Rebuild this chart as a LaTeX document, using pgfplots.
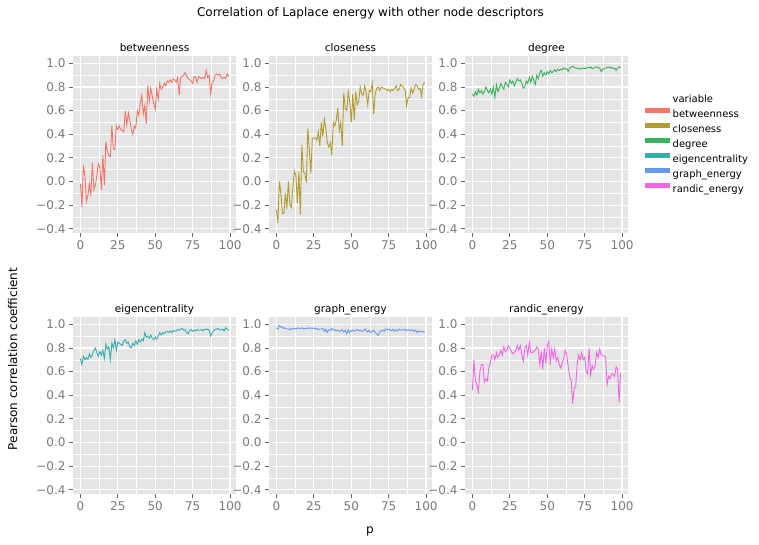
\documentclass[border=0pt]{standalone}
\usepackage{pgfplots}
\pgfplotsset{compat=1.18}
\usepackage{pgfplotstable}
\usepackage{fontspec}
\setmainfont{DejaVu Sans}

\definecolor{bg}{HTML}{E5E5E5}
\definecolor{tickc}{HTML}{666666}
\definecolor{tlc}{HTML}{7A7A7A}
\definecolor{cbet}{HTML}{F2756A}
\definecolor{cclo}{HTML}{B09C30}
\definecolor{cdeg}{HTML}{38B35C}
\definecolor{ceig}{HTML}{35AFAA}
\definecolor{cgra}{HTML}{6699F0}
\definecolor{cran}{HTML}{F463E8}

\pgfplotstableread{
p bet clo deg eig gra ran
0 -0.02 -0.24 0.74 0.71 0.97 0.44
1 -0.22 -0.35 0.72 0.66 0.96 0.70
2 0.14 0.00 0.76 0.73 0.99 0.52
3 0.05 -0.10 0.73 0.70 0.975 0.49
4 -0.17 -0.27 0.78 0.72 0.98 0.43
5 -0.12 -0.27 0.75 0.70 0.965 0.60
6 -0.02 -0.10 0.77 0.75 0.97 0.66
7 -0.12 -0.23 0.74 0.72 0.96 0.66
8 0.16 0.00 0.76 0.74 0.96 0.51
9 -0.07 -0.20 0.80 0.78 0.955 0.54
10 -0.03 -0.22 0.77 0.80 0.965 0.52
11 0.05 -0.05 0.75 0.76 0.96 0.64
12 0.15 0.09 0.78 0.73 0.965 0.67
13 0.12 0.05 0.74 0.77 0.96 0.74
14 -0.07 -0.18 0.80 0.74 0.97 0.74
15 0.22 0.08 0.71 0.78 0.965 0.70
16 -0.03 -0.28 0.82 0.71 0.965 0.76
17 0.34 0.31 0.76 0.83 0.97 0.72
18 0.25 0.08 0.79 0.79 0.96 0.74
19 0.22 0.07 0.83 0.81 0.965 0.78
20 0.21 -0.01 0.80 0.70 0.965 0.74
21 0.47 0.45 0.78 0.84 0.97 0.81
22 0.28 0.27 0.84 0.80 0.965 0.77
23 0.27 0.07 0.82 0.87 0.97 0.78
24 0.47 0.36 0.80 0.78 0.965 0.82
25 0.44 0.37 0.86 0.85 0.97 0.80
26 0.47 0.37 0.83 0.84 0.96 0.77
27 0.44 0.35 0.85 0.83 0.965 0.75
28 0.43 0.42 0.81 0.82 0.955 0.76
29 0.42 0.30 0.84 0.86 0.96 0.78
30 0.60 0.50 0.87 0.87 0.96 0.82
31 0.48 0.38 0.85 0.84 0.965 0.78
32 0.58 0.53 0.86 0.85 0.94 0.82
33 0.52 0.45 0.83 0.81 0.96 0.74
34 0.44 0.33 0.79 0.80 0.93 0.69
35 0.40 0.29 0.80 0.84 0.955 0.80
36 0.47 0.33 0.85 0.82 0.95 0.82
37 0.45 0.22 0.83 0.86 0.965 0.74
38 0.60 0.50 0.88 0.83 0.95 0.85
39 0.56 0.47 0.84 0.87 0.955 0.76
40 0.66 0.52 0.89 0.85 0.945 0.76
41 0.73 0.62 0.86 0.875 0.95 0.77
42 0.57 0.43 0.82 0.86 0.94 0.78
43 0.64 0.50 0.90 0.93 0.945 0.81
44 0.49 0.30 0.87 0.89 0.955 0.79
45 0.81 0.75 0.92 0.90 0.935 0.66
46 0.68 0.62 0.94 0.88 0.95 0.77
47 0.79 0.60 0.89 0.91 0.92 0.62
48 0.72 0.76 0.92 0.88 0.955 0.80
49 0.66 0.67 0.90 0.87 0.93 0.67
50 0.61 0.50 0.93 0.89 0.945 0.82
51 0.78 0.74 0.91 0.875 0.95 0.86
52 0.70 0.52 0.94 0.90 0.94 0.66
53 0.83 0.76 0.92 0.93 0.95 0.79
54 0.78 0.65 0.93 0.91 0.955 0.72
55 0.80 0.68 0.945 0.93 0.945 0.79
56 0.83 0.80 0.93 0.92 0.95 0.69
57 0.81 0.74 0.95 0.935 0.94 0.72
58 0.85 0.73 0.94 0.94 0.945 0.66
59 0.84 0.81 0.95 0.93 0.96 0.63
60 0.86 0.75 0.945 0.945 0.945 0.68
61 0.84 0.65 0.96 0.93 0.935 0.71
62 0.87 0.77 0.95 0.95 0.95 0.78
63 0.86 0.76 0.955 0.94 0.93 0.75
64 0.84 0.83 0.93 0.945 0.94 0.64
65 0.88 0.57 0.96 0.955 0.95 0.56
66 0.73 0.74 0.97 0.95 0.93 0.52
67 0.88 0.79 0.975 0.96 0.92 0.33
68 0.89 0.80 0.965 0.965 0.905 0.46
69 0.90 0.77 0.96 0.95 0.935 0.47
70 0.92 0.80 0.955 0.955 0.945 0.67
71 0.89 0.79 0.96 0.93 0.95 0.74
72 0.87 0.79 0.95 0.92 0.94 0.70
73 0.86 0.78 0.955 0.95 0.96 0.76
74 0.85 0.77 0.96 0.955 0.955 0.70
75 0.83 0.78 0.955 0.94 0.96 0.72
76 0.89 0.76 0.96 0.95 0.95 0.60
77 0.88 0.78 0.965 0.945 0.945 0.58
78 0.84 0.77 0.96 0.955 0.96 0.80
79 0.89 0.79 0.97 0.95 0.94 0.57
80 0.88 0.81 0.955 0.95 0.955 0.65
81 0.87 0.77 0.96 0.955 0.945 0.62
82 0.88 0.78 0.965 0.945 0.96 0.65
83 0.87 0.82 0.97 0.96 0.95 0.76
84 0.94 0.81 0.965 0.955 0.955 0.72
85 0.88 0.79 0.96 0.96 0.95 0.79
86 0.90 0.77 0.93 0.95 0.96 0.74
87 0.74 0.64 0.95 0.90 0.945 0.74
88 0.84 0.71 0.955 0.93 0.955 0.73
89 0.85 0.71 0.96 0.945 0.95 0.72
90 0.90 0.79 0.965 0.955 0.945 0.49
91 0.91 0.75 0.97 0.96 0.955 0.56
92 0.90 0.78 0.96 0.965 0.94 0.54
93 0.91 0.82 0.965 0.955 0.95 0.58
94 0.88 0.81 0.955 0.95 0.93 0.58
95 0.87 0.78 0.96 0.96 0.945 0.56
96 0.88 0.79 0.94 0.945 0.94 0.64
97 0.87 0.72 0.96 0.97 0.935 0.62
98 0.91 0.82 0.97 0.96 0.94 0.34
99 0.89 0.84 0.96 0.95 0.93 0.59
}\corr

\pgfplotsset{
  every axis title shift=0pt,
  panel/.style={
    scale only axis, width=163pt, height=177pt,
    xmin=-4.95, xmax=103.95, ymin=-0.436, ymax=1.062,
    axis background/.style={fill=bg},
    axis line style={draw=none},
    xtick={0,25,50,75,100},
    ytick={-0.4,-0.2,0,0.2,0.4,0.6,0.8,1.0},
    yticklabels={−0.4,−0.2,0.0,0.2,0.4,0.6,0.8,1.0},
    minor xtick={12.5,37.5,62.5,87.5},
    minor ytick={-0.3,-0.1,0.1,0.3,0.5,0.7,0.9},
    grid=both,
    major grid style={white, line width=1.2pt},
    minor grid style={white, line width=0.5pt},
    tick align=outside, xtick pos=bottom, ytick pos=left,
    major tick length=4pt, minor tick length=0pt,
    major tick style={draw=tickc, line width=0.8pt},
    tick label style={font=\fontsize{12}{12}\selectfont, text=tlc},
    /pgf/number format/assume math mode=true,
    title style={font=\fontsize{10.5}{12}\selectfont, at={(0.5,1)}, anchor=base, yshift=4pt, inner sep=0pt},
  },
  series/.style={line width=0.9pt, mark=none, #1},
}

\begin{document}
\begin{tikzpicture}[x=1pt,y=1pt]
\useasboundingbox (0,0) rectangle (759,545);

\begin{axis}[panel, at={(73pt,312pt)}, anchor=south west, title={betweenness}]
\addplot[series=cbet] table[x=p, y=bet] {\corr};
\end{axis}

\begin{axis}[panel, at={(269pt,312pt)}, anchor=south west, title={closeness}]
\addplot[series=cclo] table[x=p, y=clo] {\corr};
\end{axis}

\begin{axis}[panel, at={(465pt,312pt)}, anchor=south west, title={degree},
  legend style={at={(1.09,0.795)}, anchor=north west, draw=none, fill=none,
    font=\fontsize{10}{12}\selectfont, inner sep=0pt, outer sep=0pt, row sep=0pt,
    nodes={inner sep=0pt, text height=10pt, text depth=5pt},
    /tikz/every even column/.append style={column sep=6pt}},
  legend cell align=left,
  legend image code/.code={\draw[#1, line width=5pt] (0pt,4.5pt) -- (25pt,4.5pt);}]
\addplot[series=cdeg, forget plot] table[x=p, y=deg] {\corr};
\addlegendimage{empty legend}
\addlegendentry{variable}
\addlegendimage{cbet}
\addlegendentry{betweenness}
\addlegendimage{cclo}
\addlegendentry{closeness}
\addlegendimage{cdeg}
\addlegendentry{degree}
\addlegendimage{ceig}
\addlegendentry{eigencentrality}
\addlegendimage{cgra}
\addlegendentry{graph\_energy}
\addlegendimage{cran}
\addlegendentry{randic\_energy}
\end{axis}

\begin{axis}[panel, at={(73pt,51pt)}, anchor=south west, title={eigencentrality}]
\addplot[series=ceig] table[x=p, y=eig] {\corr};
\end{axis}

\begin{axis}[panel, at={(269pt,51pt)}, anchor=south west, title={graph\_energy}]
\addplot[series=cgra] table[x=p, y=gra] {\corr};
\end{axis}

\begin{axis}[panel, at={(465pt,51pt)}, anchor=south west, title={randic\_energy}]
\addplot[series=cran] table[x=p, y=ran] {\corr};
\end{axis}

\node[anchor=base, font=\fontsize{12}{14}\selectfont] at (370.5,528) {Correlation of Laplace energy with other node descriptors};
\node[anchor=base, font=\fontsize{12}{14}\selectfont] at (370,11.5) {p};
\node[rotate=90, anchor=base, font=\fontsize{12}{14}\selectfont] at (17,186) {Pearson correlation coefficient};
\end{tikzpicture}
\end{document}
